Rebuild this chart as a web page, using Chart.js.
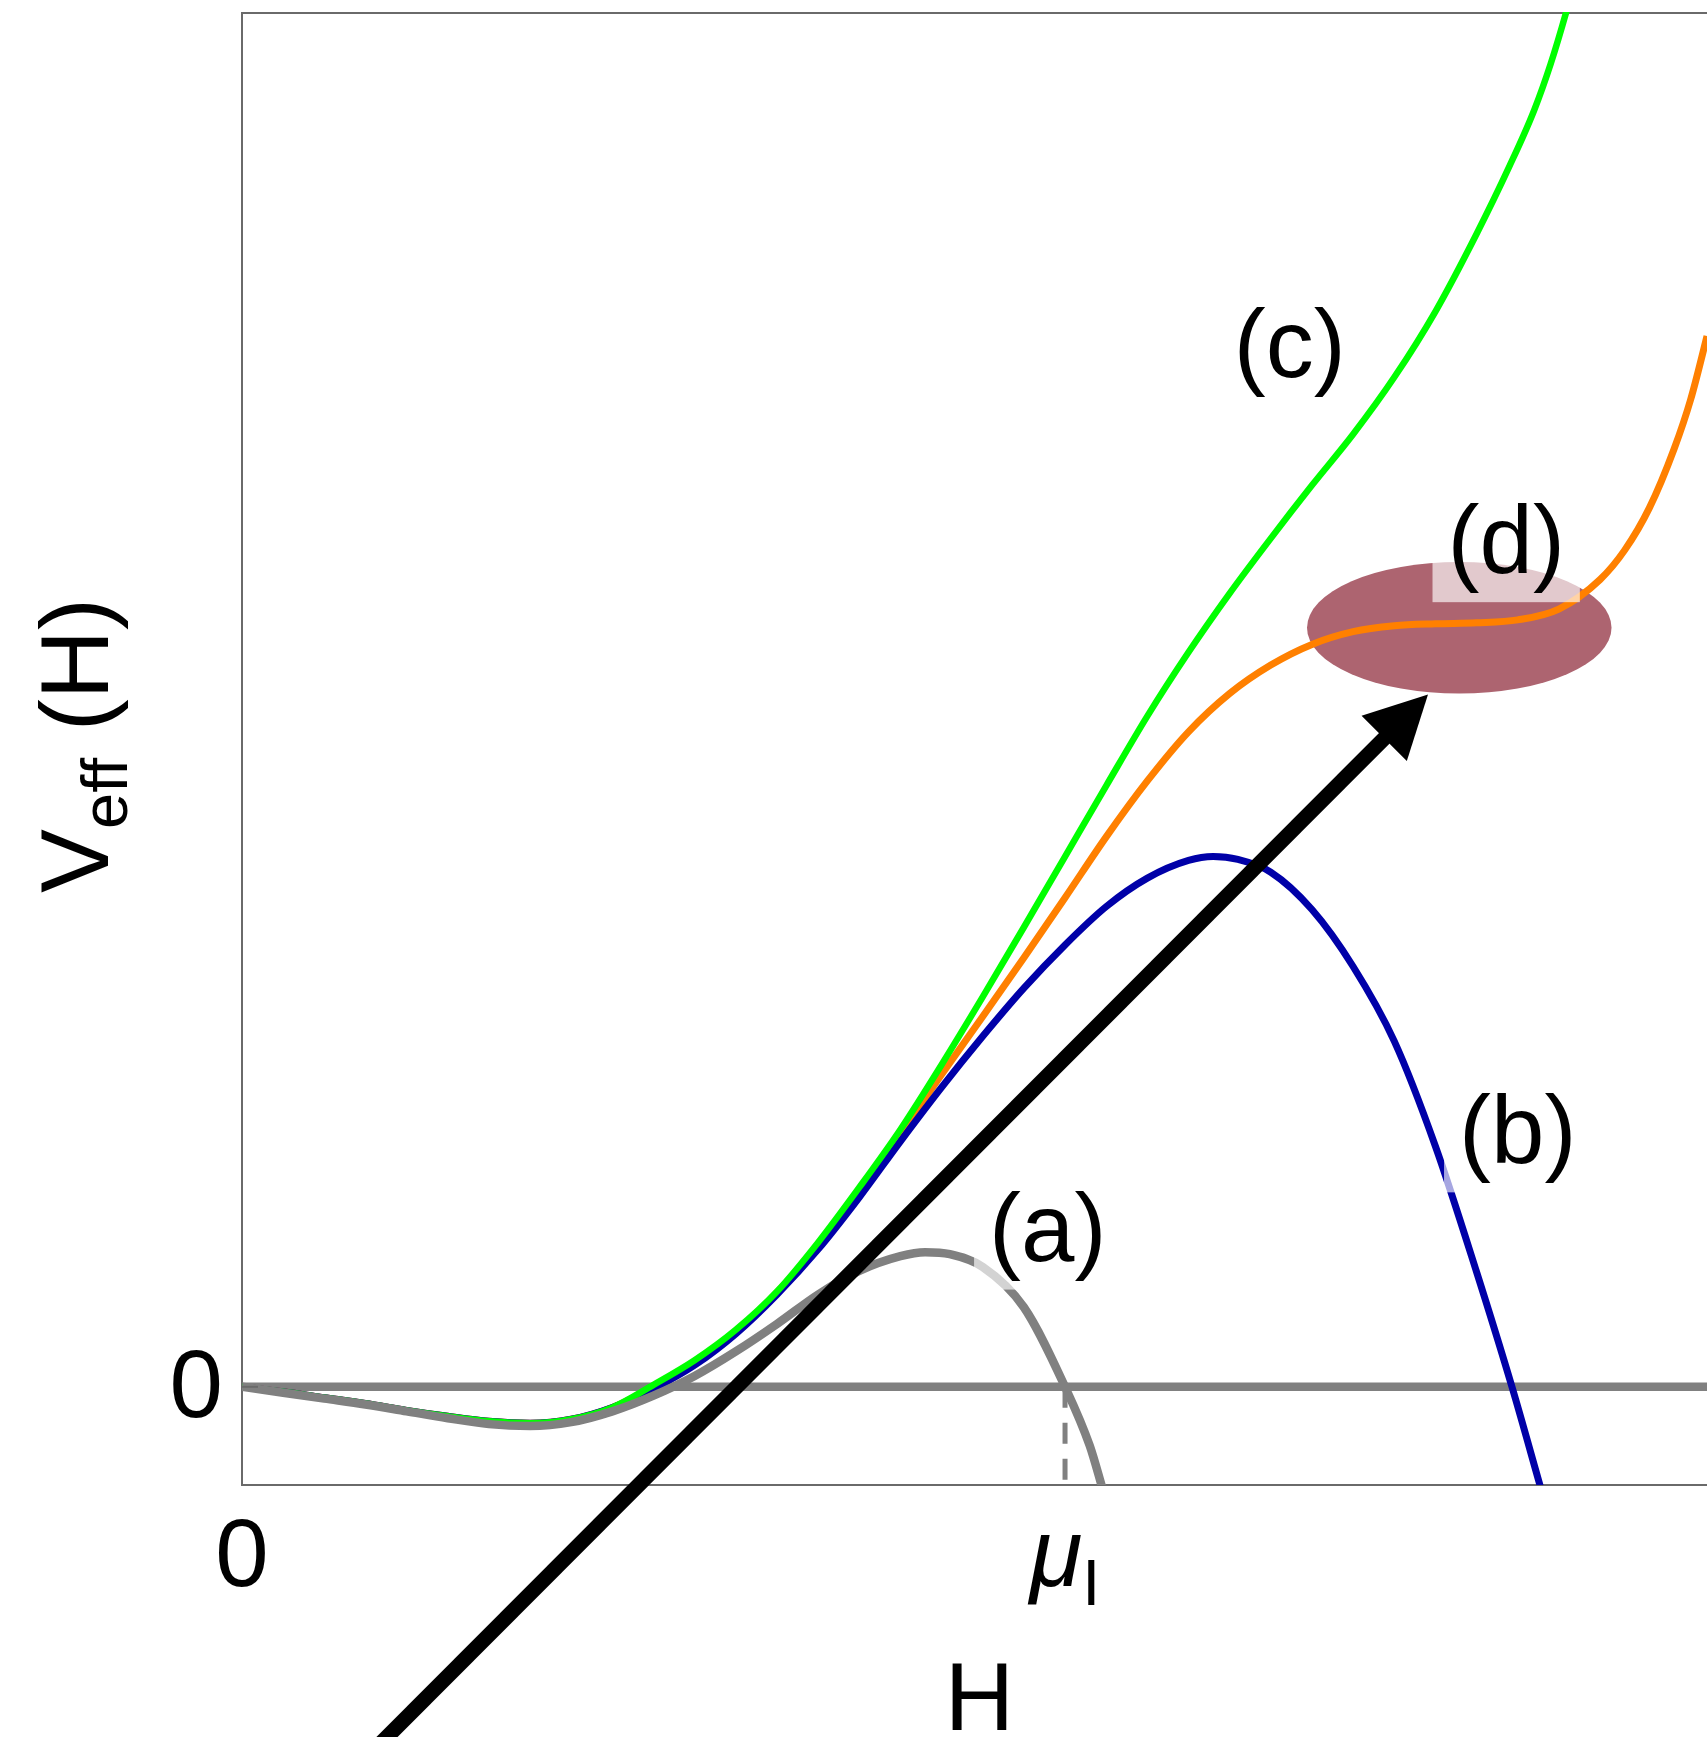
<!DOCTYPE html>
<html>
<head>
<meta charset="utf-8">
<script src="https://cdn.jsdelivr.net/npm/chart.js@4.4.1/dist/chart.umd.min.js"></script>
<style>
  html, body { margin: 0; padding: 0; background: #fff; overflow: hidden; }
  canvas { display: block; }
</style>
</head>
<body>
<canvas id="potential" width="1707" height="1737"></canvas>
<script>
// V_eff(H) sampled along H for the four cases
const hA = [0, 0.05, 0.1, 0.15, 0.2, 0.25, 0.3, 0.35, 0.4, 0.45, 0.5, 0.55, 0.6, 0.65, 0.7, 0.75, 0.8, 0.83, 0.86, 0.9, 0.95, 1.0, 1.03, 1.046];
const vA = [0, -0.006, -0.012, -0.018, -0.025, -0.032, -0.038, -0.04, -0.036, -0.025, -0.009, 0.011, 0.036, 0.064, 0.094, 0.118, 0.133, 0.137, 0.135, 0.122, 0.081, 0, -0.06, -0.105];

const hB = [0, 0.05, 0.1, 0.15, 0.2, 0.25, 0.3, 0.35, 0.4, 0.45, 0.5, 0.55, 0.6, 0.65, 0.7, 0.75, 0.8, 0.85, 0.9, 0.95, 1.0, 1.05, 1.1, 1.15, 1.18, 1.21, 1.25, 1.3, 1.35, 1.4, 1.45, 1.5, 1.543, 1.578];
const vB = [0, -0.005, -0.011, -0.017, -0.024, -0.03, -0.035, -0.037, -0.033, -0.021, -0.002, 0.022, 0.054, 0.094, 0.14, 0.193, 0.25, 0.305, 0.357, 0.406, 0.45, 0.489, 0.518, 0.536, 0.54, 0.537, 0.524, 0.486, 0.428, 0.352, 0.245, 0.117, 0, -0.103];

const hC = [0, 0.05, 0.1, 0.15, 0.2, 0.25, 0.3, 0.35, 0.4, 0.45, 0.5, 0.55, 0.6, 0.65, 0.7, 0.75, 0.8, 0.85, 0.9, 0.95, 1.0, 1.05, 1.1, 1.15, 1.2, 1.25, 1.3, 1.35, 1.4, 1.45, 1.5, 1.54, 1.57, 1.59, 1.61, 1.625];
const vC = [0, -0.005, -0.011, -0.017, -0.024, -0.03, -0.035, -0.037, -0.033, -0.021, 0.002, 0.027, 0.058, 0.097, 0.147, 0.203, 0.262, 0.328, 0.397, 0.468, 0.54, 0.612, 0.683, 0.748, 0.808, 0.864, 0.918, 0.97, 1.028, 1.095, 1.174, 1.243, 1.3, 1.347, 1.403, 1.45];

const hD = [0, 0.05, 0.1, 0.15, 0.2, 0.25, 0.3, 0.35, 0.4, 0.45, 0.5, 0.55, 0.6, 0.65, 0.7, 0.75, 0.8, 0.85, 0.9, 0.95, 1.0, 1.05, 1.1, 1.15, 1.2, 1.25, 1.3, 1.35, 1.4, 1.45, 1.5, 1.55, 1.6, 1.65, 1.68, 1.71, 1.74, 1.76, 1.78, 1.8];
const vD = [0, -0.005, -0.011, -0.017, -0.024, -0.03, -0.035, -0.037, -0.033, -0.021, 0, 0.025, 0.056, 0.096, 0.144, 0.199, 0.258, 0.318, 0.377, 0.437, 0.498, 0.56, 0.617, 0.667, 0.706, 0.735, 0.756, 0.769, 0.775, 0.777, 0.778, 0.781, 0.792, 0.822, 0.852, 0.895, 0.955, 1.005, 1.07, 1.14];

// curve tags and where they sit
const curveLabels = ['(a)', '(b)', '(c)', '(d)'];
const labelH = [0.979, 1.55, 1.273, 1.536];
const labelV = [0.154, 0.253, 1.054, 0.854];

// axes
const xTickValues = [0, 1];
const xTickLabels = ['0', 'μ_I'];
const yTickValues = [0];
const yTickLabels = ['0'];
const xTitle = 'H';
const yTitle = 'V_eff (H)';

// shaded well region around the plateau of (d), and the arrow pointing at it
const wellCenter = [1.479, 0.773];
const wellRadii = [0.185, 0.067];
const arrowFrom = [0.134, -0.392];
const arrowTo = [1.441, 0.705];

const FONT = '"Liberation Sans", Arial, sans-serif';
const SIZE = 96;

const pts = (hs, vs) => hs.map((h, i) => ({ x: h, y: vs[i] }));

// text with an optional "_sub" part, centred on x, baseline y
function drawSub(ctx, text, x, y, size, italicMain) {
  const m = text.match(/^([^_]*)_(\S+)(.*)$/) || [null, text, '', ''];
  const sub = Math.round(size * 0.68);
  const fMain = (italicMain ? 'italic ' : '') + size + 'px ' + FONT;
  const fSub = sub + 'px ' + FONT;
  const fRest = size + 'px ' + FONT;
  ctx.font = fMain; const w1 = ctx.measureText(m[1]).width;
  ctx.font = fSub; const w2 = ctx.measureText(m[2]).width;
  ctx.font = fRest; const w3 = ctx.measureText(m[3]).width;
  let cx = x - (w1 + w2 + w3) / 2;
  ctx.textAlign = 'left';
  ctx.textBaseline = 'alphabetic';
  ctx.font = fMain; ctx.fillText(m[1], cx, y); cx += w1;
  ctx.font = fSub; ctx.fillText(m[2], cx, y + size * 0.2); cx += w2;
  ctx.font = fRest; ctx.fillText(m[3], cx, y);
}

const overlay = {
  id: 'overlay',
  beforeDatasetsDraw(chart) {
    const { ctx, chartArea: a, scales: { x, y } } = chart;
    ctx.save();
    // frame (right edge runs off the canvas)
    ctx.strokeStyle = '#6a6a6a';
    ctx.lineWidth = 2;
    ctx.beginPath();
    ctx.moveTo(a.right + 2, a.top + 1);
    ctx.lineTo(a.left, a.top + 1);
    ctx.lineTo(a.left, a.bottom);
    ctx.lineTo(a.right + 2, a.bottom);
    ctx.stroke();
    // well
    const cx = x.getPixelForValue(wellCenter[0]);
    const cy = y.getPixelForValue(wellCenter[1]);
    const rx = x.getPixelForValue(wellCenter[0] + wellRadii[0]) - cx;
    const ry = cy - y.getPixelForValue(wellCenter[1] + wellRadii[1]);
    ctx.fillStyle = '#ad6470';
    ctx.beginPath();
    ctx.ellipse(cx, cy, rx, ry, 0, 0, Math.PI * 2);
    ctx.fill();
    ctx.restore();
  },
  afterDatasetsDraw(chart) {
    const { ctx, chartArea: a, scales: { x, y } } = chart;
    ctx.save();

    // small frame tick at V = 0
    ctx.strokeStyle = '#6a6a6a';
    ctx.lineWidth = 2;
    yTickValues.forEach(v => {
      const py = y.getPixelForValue(v);
      ctx.beginPath(); ctx.moveTo(a.left, py); ctx.lineTo(a.left + 16, py); ctx.stroke();
    });

    // arrow
    const x0 = x.getPixelForValue(arrowFrom[0]), y0 = y.getPixelForValue(arrowFrom[1]);
    const x1 = x.getPixelForValue(arrowTo[0]), y1 = y.getPixelForValue(arrowTo[1]);
    const len = Math.hypot(x1 - x0, y1 - y0);
    const ux = (x1 - x0) / len, uy = (y1 - y0) / len;
    const headLen = 62, headHalf = 32;
    const bx = x1 - ux * headLen, by = y1 - uy * headLen;
    ctx.strokeStyle = '#000';
    ctx.lineWidth = 15;
    ctx.lineCap = 'butt';
    ctx.beginPath(); ctx.moveTo(x0, y0); ctx.lineTo(bx + ux * 2, by + uy * 2); ctx.stroke();
    ctx.fillStyle = '#000';
    ctx.beginPath();
    ctx.moveTo(x1, y1);
    ctx.lineTo(bx - uy * headHalf, by + ux * headHalf);
    ctx.lineTo(bx + uy * headHalf, by - ux * headHalf);
    ctx.closePath();
    ctx.fill();

    // curve tags on a translucent white backing
    ctx.font = SIZE + 'px ' + FONT;
    curveLabels.forEach((t, i) => {
      const px = x.getPixelForValue(labelH[i]);
      const base = y.getPixelForValue(labelV[i]) + 25;
      const w = ctx.measureText(t).width;
      ctx.fillStyle = 'rgba(255,255,255,0.65)';
      ctx.fillRect(px - w / 2 - 15, base - 79, w + 30, 108);
      ctx.fillStyle = '#000';
      ctx.textAlign = 'center';
      ctx.textBaseline = 'alphabetic';
      ctx.fillText(t, px, base);
    });

    // tick labels
    ctx.fillStyle = '#000';
    xTickValues.forEach((v, i) => {
      drawSub(ctx, xTickLabels[i], x.getPixelForValue(v), a.bottom + 101, SIZE, xTickLabels[i].startsWith('μ'));
    });
    ctx.font = SIZE + 'px ' + FONT;
    ctx.textAlign = 'right';
    ctx.textBaseline = 'alphabetic';
    yTickValues.forEach((v, i) => {
      ctx.fillText(yTickLabels[i], a.left - 19, y.getPixelForValue(v) + 30);
    });

    // axis titles
    drawSub(ctx, xTitle, (a.left + a.right) / 2 + 5, a.bottom + 245, SIZE, false);
    ctx.translate(108, (a.top + a.bottom) / 2 - 3);
    ctx.rotate(-Math.PI / 2);
    drawSub(ctx, yTitle, 0, 0, SIZE, false);

    ctx.restore();
  }
};

const line = (data, color, width, order, extra) => Object.assign({
  data, borderColor: color, borderWidth: width, order,
  showLine: true, pointRadius: 0, fill: false,
  cubicInterpolationMode: 'monotone'
}, extra || {});

new Chart(document.getElementById('potential'), {
  type: 'scatter',
  data: {
    datasets: [
      line(pts(hA, vA), '#808080', 8.5, 0),
      line(pts(hC, vC), '#00ff00', 6.5, 1),
      line(pts(hB, vB), '#0000a8', 7, 2),
      line(pts(hD, vD), '#ff8000', 7, 3),
      // drop line from the zero crossing of (a) at mu_I
      line([{ x: 1, y: 0 }, { x: 1, y: -0.1 }], '#808080', 5, 4, { borderDash: [21, 15], cubicInterpolationMode: 'default' }),
      // V = 0 reference
      line([{ x: -0.005, y: 0 }, { x: 1.79, y: 0 }], '#808080', 8.5, 5, { cubicInterpolationMode: 'default' })
    ]
  },
  options: {
    responsive: false,
    animation: false,
    devicePixelRatio: 1,
    layout: { padding: { left: 242, top: 12, right: 0, bottom: 252 } },
    scales: {
      x: { type: 'linear', min: 0, max: 1.78, display: false },
      y: { type: 'linear', min: -0.1, max: 1.4, display: false }
    },
    plugins: { legend: { display: false }, tooltip: { enabled: false } },
    elements: { line: { borderCapStyle: 'butt', borderJoinStyle: 'round' } }
  },
  plugins: [overlay]
});
</script>
</body>
</html>
